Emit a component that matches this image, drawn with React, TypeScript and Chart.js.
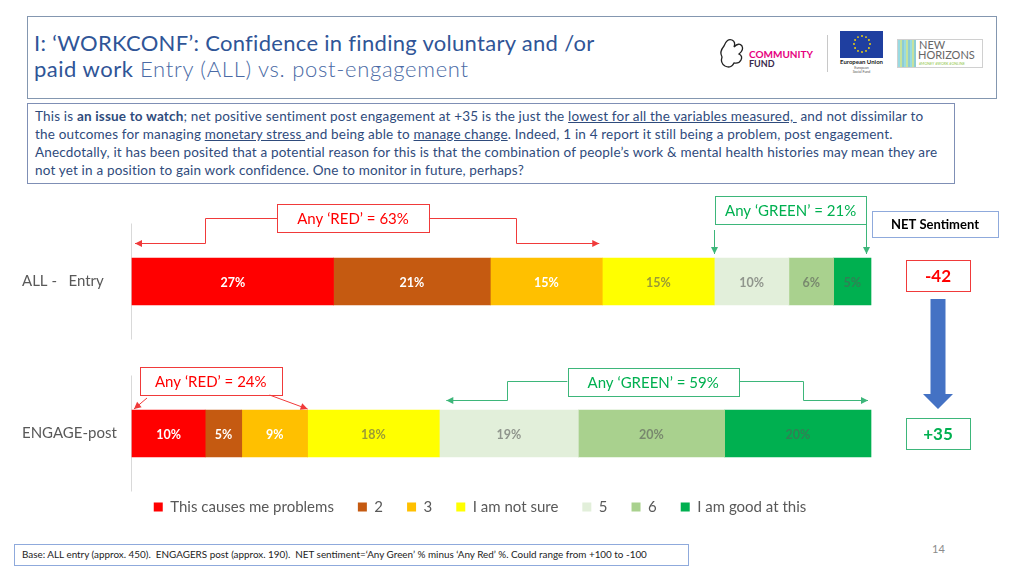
import React, { useEffect, useRef } from "react";
import { Chart, registerables } from "chart.js";

Chart.register(...registerables);

const FONT = "Lato, 'Open Sans', sans-serif";

const categories = ["ALL -  Entry", "ENGAGE-post"];
const seriesNames = ["This causes me problems", "2", "3", "I am not sure", "5", "6", "I am good at this"];
const causesProblems = [27, 10];
const score2 = [21, 5];
const score3 = [15, 9];
const notSure = [15, 18];
const score5 = [10, 19];
const score6 = [6, 20];
const goodAtThis = [5, 20];
const seriesColors = ["#FF0000", "#C55A11", "#FFC000", "#FFFF00", "#E2EFDA", "#A9D18E", "#00B050"];
const labelColors = ["#FFFFFF", "#FFFFFF", "#FFFFFF", "rgba(89,89,89,0.6)", "rgba(89,89,89,0.6)", "rgba(89,89,89,0.6)", "rgba(89,89,89,0.55)"];

const series = [causesProblems, score2, score3, notSure, score5, score6, goodAtThis];
const rowTotals = categories.map((_, j) => series.reduce((s, a) => s + a[j], 0));
const anyRed = categories.map((_, j) => causesProblems[j] + score2[j] + score3[j]);
const anyGreen = categories.map((_, j) => score5[j] + score6[j] + goodAtThis[j]);
const netSentiment = categories.map((_, j) => anyGreen[j] - anyRed[j]);

const RED_LINE = "#F03A3A";
const RED_TEXT = "#FF0000";
const GREEN_LINE = "#3DB67A";
const GREEN_TEXT = "#00B050";
const LEGEND_LEFT = 89;

const snap = (v: number) => Math.round(v) + 0.5;

function arrowPath(ctx: CanvasRenderingContext2D, pts: number[][], color: string) {
  ctx.save();
  ctx.strokeStyle = color;
  ctx.fillStyle = color;
  ctx.lineWidth = 1;
  ctx.beginPath();
  pts.forEach(([x, y], i) => (i ? ctx.lineTo(x, y) : ctx.moveTo(x, y)));
  ctx.stroke();
  const [x1, y1] = pts[pts.length - 2];
  const [x2, y2] = pts[pts.length - 1];
  const a = Math.atan2(y2 - y1, x2 - x1);
  const L = 7;
  const W = 3.5;
  ctx.beginPath();
  ctx.moveTo(x2, y2);
  ctx.lineTo(x2 - L * Math.cos(a) - W * Math.sin(a), y2 - L * Math.sin(a) + W * Math.cos(a));
  ctx.lineTo(x2 - L * Math.cos(a) + W * Math.sin(a), y2 - L * Math.sin(a) - W * Math.cos(a));
  ctx.closePath();
  ctx.fill();
  ctx.restore();
}

function textBox(ctx: CanvasRenderingContext2D, x: number, y: number, w: number, h: number, stroke: string, text: string, color: string, font: string) {
  ctx.save();
  ctx.fillStyle = "#FFFFFF";
  ctx.fillRect(x, y, w, h);
  ctx.strokeStyle = stroke;
  ctx.lineWidth = 1;
  ctx.strokeRect(snap(x), snap(y), Math.round(w), Math.round(h));
  ctx.font = font;
  ctx.fillStyle = color;
  ctx.textAlign = "center";
  ctx.textBaseline = "middle";
  ctx.fillText(text, x + w / 2, y + h / 2 + 1);
  ctx.restore();
}

const fmtNet = (n: number) => (n > 0 ? `+${n}` : `${n}`);

const slidePlugin = {
  id: "slideAnnotations",
  afterLayout(chart: any) {
    const lg = chart.legend;
    if (lg) {
      lg.width = lg.right - LEGEND_LEFT;
      lg.left = LEGEND_LEFT;
    }
  },
  beforeDatasetsDraw(chart: any) {
    const ctx = chart.ctx as CanvasRenderingContext2D;
    const ca = chart.chartArea;
    const rows = chart.getDatasetMeta(0).data.map((el: any) => el.getProps(["y", "height"], true));
    ctx.save();
    ctx.strokeStyle = "#D9D9D9";
    ctx.lineWidth = 1;
    rows.forEach((r: any) => {
      ctx.beginPath();
      ctx.moveTo(Math.round(ca.left) - 0.5, r.y - 58);
      ctx.lineTo(Math.round(ca.left) - 0.5, r.y + 58);
      ctx.stroke();
    });
    ctx.restore();
  },
  afterDatasetsDraw(chart: any) {
    const ctx = chart.ctx as CanvasRenderingContext2D;
    chart.data.datasets.forEach((_: any, i: number) => {
      const meta = chart.getDatasetMeta(i);
      meta.data.forEach((el: any, j: number) => {
        const p = el.getProps(["x", "y", "base"], true);
        ctx.save();
        ctx.font = `bold 12.5px ${FONT}`;
        ctx.fillStyle = labelColors[i];
        ctx.textAlign = "center";
        ctx.textBaseline = "middle";
        ctx.fillText(`${series[i][j]}%`, (p.x + p.base) / 2, p.y + 1);
        ctx.restore();
      });
    });
  },
  afterDraw(chart: any) {
    const ctx = chart.ctx as CanvasRenderingContext2D;
    const xs = chart.scales.x;
    const ca = chart.chartArea;
    const rows = chart.getDatasetMeta(0).data.map((el: any) => el.getProps(["y", "height"], true));
    const xAt = (j: number, cum: number) => xs.getPixelForValue((cum / rowTotals[j]) * 100);
    const annFont = `15px ${FONT}`;
    const bh = 28;

    // ---- Row 0 (ALL - Entry)
    const r0 = rows[0];
    const top0 = r0.y - r0.height / 2;
    ctx.font = annFont;
    const red0 = `Any ‘RED’ = ${anyRed[0]}%`;
    const tw0 = ctx.measureText(red0).width;
    const s0 = xAt(0, 0);
    const e0 = xAt(0, anyRed[0]);
    const bw0 = tw0 + 40;
    const bx0 = s0 + (e0 - s0) * 0.47 - bw0 / 2;
    const by0 = top0 - 54;
    const cy0 = snap(by0 + bh / 2);
    const ay0 = snap(top0 - 15);
    const elL0 = snap((s0 + bx0) / 2);
    const elR0 = snap((bx0 + bw0 + e0) / 2);
    arrowPath(ctx, [[bx0, cy0], [elL0, cy0], [elL0, ay0], [s0 + 3, ay0]], RED_LINE);
    arrowPath(ctx, [[bx0 + bw0, cy0], [elR0, cy0], [elR0, ay0], [e0 - 3, ay0]], RED_LINE);
    textBox(ctx, bx0, by0, bw0, bh, RED_LINE, red0, RED_TEXT, annFont);

    const g0s = xAt(0, rowTotals[0] - anyGreen[0]);
    const g0e = xAt(0, rowTotals[0]) - 5;
    const gby0 = top0 - 62;
    textBox(ctx, g0s + 1, gby0, g0e - g0s - 1, bh, GREEN_LINE, `Any ‘GREEN’ = ${anyGreen[0]}%`, GREEN_TEXT, annFont);
    arrowPath(ctx, [[snap(g0s), gby0 + bh + 6], [snap(g0s), top0 - 4]], GREEN_LINE);
    arrowPath(ctx, [[snap(g0e), gby0 + bh], [snap(g0e), top0 - 4]], GREEN_LINE);

    // ---- Row 1 (ENGAGE-post)
    const r1 = rows[1];
    const top1 = r1.y - r1.height / 2;
    ctx.font = annFont;
    const red1 = `Any ‘RED’ = ${anyRed[1]}%`;
    const tw1 = ctx.measureText(red1).width;
    const s1 = xAt(1, 0);
    const e1 = xAt(1, anyRed[1]);
    const bw1 = tw1 + 30;
    const bx1 = s1 + 8;
    const by1 = top1 - 43;
    textBox(ctx, bx1, by1, bw1, bh, RED_LINE, red1, RED_TEXT, annFont);
    arrowPath(ctx, [[bx1 + 7, by1 + bh + 3], [s1 + 2, top1 - 1]], RED_LINE);
    arrowPath(ctx, [[bx1 + bw1 - 12, by1 + bh], [e1, top1 - 1]], RED_LINE);

    const green1 = `Any ‘GREEN’ = ${anyGreen[1]}%`;
    ctx.font = annFont;
    const tg1 = ctx.measureText(green1).width;
    const gs1 = xAt(1, rowTotals[1] - anyGreen[1]) + 7;
    const ge1 = xAt(1, rowTotals[1]) - 3;
    const gbw1 = tg1 + 40;
    const gbx1 = (gs1 + ge1) / 2 - 4 - gbw1 / 2;
    const gby1 = top1 - 42;
    const gcy1 = snap(gby1 + bh / 2 - 1);
    const gay1 = snap(top1 - 10);
    const gL1 = snap((gbx1 + gs1) / 2);
    const gR1 = snap((gbx1 + gbw1 + ge1) / 2);
    arrowPath(ctx, [[gbx1, gcy1], [gL1, gcy1], [gL1, gay1], [gs1, gay1]], GREEN_LINE);
    arrowPath(ctx, [[gbx1 + gbw1, gcy1], [gR1, gcy1], [gR1, gay1], [ge1, gay1]], GREEN_LINE);
    textBox(ctx, gbx1, gby1, gbw1, bh, GREEN_LINE, green1, GREEN_TEXT, annFont);

    // ---- NET sentiment column
    textBox(ctx, ca.right + 1, top0 - 47, 126, 26, "#8FAADC", "NET Sentiment", "#000000", `bold 13px ${FONT}`);
    const ncx = ca.right + 67;
    const nb0y = r0.y - 6 - 15.5;
    const nb1y = r1.y - 15.5;
    textBox(ctx, ncx - 32, nb0y, 64, 31, RED_LINE, fmtNet(netSentiment[0]), RED_TEXT, `bold 17px ${FONT}`);
    textBox(ctx, ncx - 32, nb1y, 64, 31, GREEN_LINE, fmtNet(netSentiment[1]), GREEN_TEXT, `bold 17px ${FONT}`);
    const aTop = nb0y + 31 + 8;
    const aTip = nb1y - 9;
    const headLen = 15;
    ctx.save();
    ctx.fillStyle = "#4472C4";
    ctx.beginPath();
    ctx.moveTo(ncx - 7.5, aTop);
    ctx.lineTo(ncx + 7.5, aTop);
    ctx.lineTo(ncx + 7.5, aTip - headLen);
    ctx.lineTo(ncx + 15, aTip - headLen);
    ctx.lineTo(ncx, aTip);
    ctx.lineTo(ncx - 15, aTip - headLen);
    ctx.lineTo(ncx - 7.5, aTip - headLen);
    ctx.closePath();
    ctx.fill();
    ctx.restore();
  },
};

function ChartCanvas() {
  const ref = useRef<HTMLCanvasElement | null>(null);
  useEffect(() => {
    if (!ref.current) return;
    const chart = new Chart(ref.current, {
      type: "bar",
      data: {
        labels: categories,
        datasets: series.map((arr, i) => ({
          label: seriesNames[i],
          data: arr.map((v, j) => (v / rowTotals[j]) * 100),
          backgroundColor: seriesColors[i],
          borderWidth: 0,
          barThickness: 47,
          clip: false as any,
        })),
      },
      options: {
        indexAxis: "y",
        responsive: false,
        maintainAspectRatio: false,
        animation: false,
        layout: { padding: { top: 91.5, left: 22, right: 153, bottom: 5.5 } },
        scales: {
          x: {
            stacked: true,
            min: 0,
            max: 100,
            grid: { display: false },
            border: { display: false },
            ticks: { display: false },
            afterFit: (s: any) => {
              s.height = 42;
            },
          },
          y: {
            stacked: true,
            offset: false,
            grid: { display: false },
            border: { display: false },
            ticks: {
              font: { family: FONT, size: 15 },
              color: "#595959",
              crossAlign: "far",
              autoSkip: false,
              callback: (_v: any, i: number) => (i === 0 ? categories[i].replace("-  ", "-   ") : categories[i]),
            },
            afterFit: (s: any) => {
              s.width = 110;
            },
          },
        },
        plugins: {
          legend: {
            position: "bottom",
            labels: {
              boxWidth: 9,
              boxHeight: 9,
              font: { family: FONT, size: 15 },
              color: "#595959",
              padding: 24,
            },
          },
          tooltip: { enabled: false },
        },
      },
      plugins: [slidePlugin],
    } as any);
    return () => chart.destroy();
  }, []);
  return (
    <canvas
      ref={ref}
      width={1024}
      height={340}
      style={{ position: "absolute", left: 0, top: 190, width: 1024, height: 340, display: "block" }}
    />
  );
}

function Logos() {
  const stars = Array.from({ length: 12 }, (_, i) => {
    const a = (i / 12) * Math.PI * 2;
    return [862 + 8 * Math.cos(a), 44 + 8 * Math.sin(a)];
  });
  const stripes = Array.from({ length: 9 }, (_, i) => i);
  return (
    <svg width={1024} height={100} style={{ position: "absolute", left: 0, top: 0 }}>
      <path
        d="M724 46 q3 -8 8 -6 q4 2 2 7 q5 -5 8 -1 q2 4 -3 8 q4 2 2 6 q-2 4 -7 3 q-3 6 -9 3 q-5 -3 -3 -9 q-3 -5 2 -11 z"
        fill="none"
        stroke="#222"
        strokeWidth={1.3}
      />
      <text x={749} y={58} fontFamily={FONT} fontWeight="bold" fontSize={10} fill="#E6007E">COMMUNITY</text>
      <text x={749} y={67} fontFamily={FONT} fontWeight="bold" fontSize={9} fill="#3A2A4A">FUND</text>
      <line x1={827.5} y1={35} x2={827.5} y2={72} stroke="#C8C8C8" strokeWidth={1} />
      <rect x={840} y={31} width={43} height={27} fill="#1F3FA0" />
      {stars.map(([x, y], i) => (
        <circle key={i} cx={x} cy={y} r={0.9} fill="#FFDD00" />
      ))}
      <text x={861.5} y={64} textAnchor="middle" fontFamily={FONT} fontWeight="bold" fontSize={6} fill="#222">European Union</text>
      <text x={861.5} y={69} textAnchor="middle" fontFamily={FONT} fontSize={3.5} fill="#555">European</text>
      <text x={861.5} y={73} textAnchor="middle" fontFamily={FONT} fontSize={3.5} fill="#555">Social Fund</text>
      <rect x={897.5} y={39.5} width={85} height={28} fill="none" stroke="#D0D0D0" />
      {stripes.map((i) => (
        <line
          key={i}
          x1={899 + i * 2}
          y1={40}
          x2={899 + i * 2}
          y2={67}
          stroke={i % 3 === 0 ? "#35B6C4" : i % 3 === 1 ? "#8CC63F" : "#1C9AA8"}
          strokeWidth={1}
        />
      ))}
      <text x={919} y={49} fontFamily={FONT} fontSize={11} fill="#666">NEW</text>
      <text x={918} y={59} fontFamily={FONT} fontSize={11} fill="#666">HORIZONS</text>
      <text x={919} y={65} fontFamily={FONT} fontSize={3.6} fill="#8DC63F">#MONEY #WORK #ONLINE</text>
    </svg>
  );
}

export default function App() {
  const textColor = "#2F4B7C";
  const lineStyle: React.CSSProperties = { whiteSpace: "pre", height: "18.3px" };
  return (
    <div
      style={{
        position: "absolute",
        left: 0,
        top: 0,
        width: 1024,
        height: 576,
        background: "#FFFFFF",
        overflow: "hidden",
        fontFamily: FONT,
      }}
    >
      <div
        style={{
          position: "absolute",
          left: 27,
          top: 16,
          width: 970,
          height: 83,
          border: "1px solid #8497B0",
          boxSizing: "border-box",
        }}
      />
      <div style={{ position: "absolute", left: 34, top: 30, fontSize: 22, letterSpacing: "0.3px", lineHeight: "26px", color: "#2F5597", whiteSpace: "pre" }}>
        I: ‘WORKCONF’: Confidence in finding voluntary and /or
      </div>
      <div style={{ position: "absolute", left: 34, top: 56, fontSize: 22, letterSpacing: "0.5px", lineHeight: "26px", color: "#2F5597", whiteSpace: "pre" }}>
        paid work<span style={{ fontWeight: 300, color: "#4A6AA5", letterSpacing: "0.7px" }}> Entry (ALL) vs. post-engagement</span>
      </div>
      <Logos />
      <div
        style={{
          position: "absolute",
          left: 27,
          top: 103,
          width: 928,
          height: 81,
          border: "1px solid #7F8FB5",
          boxSizing: "border-box",
        }}
      />
      <div style={{ position: "absolute", left: 35, top: 106.5, fontSize: 13.5, letterSpacing: "0.18px", lineHeight: "18.3px", color: textColor }}>
        <div style={lineStyle}>
          This is <b>an issue to watch</b>; net positive sentiment post engagement at +35 is the just the{" "}
          <u>lowest for all the variables measured, </u> and not dissimilar to
        </div>
        <div style={lineStyle}>
          the outcomes for managing <u>monetary stress </u>and being able to <u>manage change</u>. Indeed, 1 in 4 report it still being a problem, post engagement.
        </div>
        <div style={lineStyle}>
          Anecdotally, it has been posited that a potential reason for this is that the combination of people’s work &amp; mental health histories may mean they are
        </div>
        <div style={lineStyle}>not yet in a position to gain work confidence. One to monitor in future, perhaps?</div>
      </div>
      <ChartCanvas />
      <div
        style={{
          position: "absolute",
          left: 14,
          top: 544,
          width: 675,
          height: 22,
          border: "1px solid #8FAADC",
          boxSizing: "border-box",
        }}
      />
      <div style={{ position: "absolute", left: 22, top: 548, fontSize: 9.9, lineHeight: "13px", color: "#222", whiteSpace: "pre" }}>
        Base: ALL entry (approx. 450).  ENGAGERS post (approx. 190).  NET sentiment=‘Any Green’ % minus ‘Any Red’ %. Could range from +100 to -100
      </div>
      <div style={{ position: "absolute", left: 932, top: 542, fontSize: 11, lineHeight: "14px", color: "#8B8B8B" }}>14</div>
    </div>
  );
}
